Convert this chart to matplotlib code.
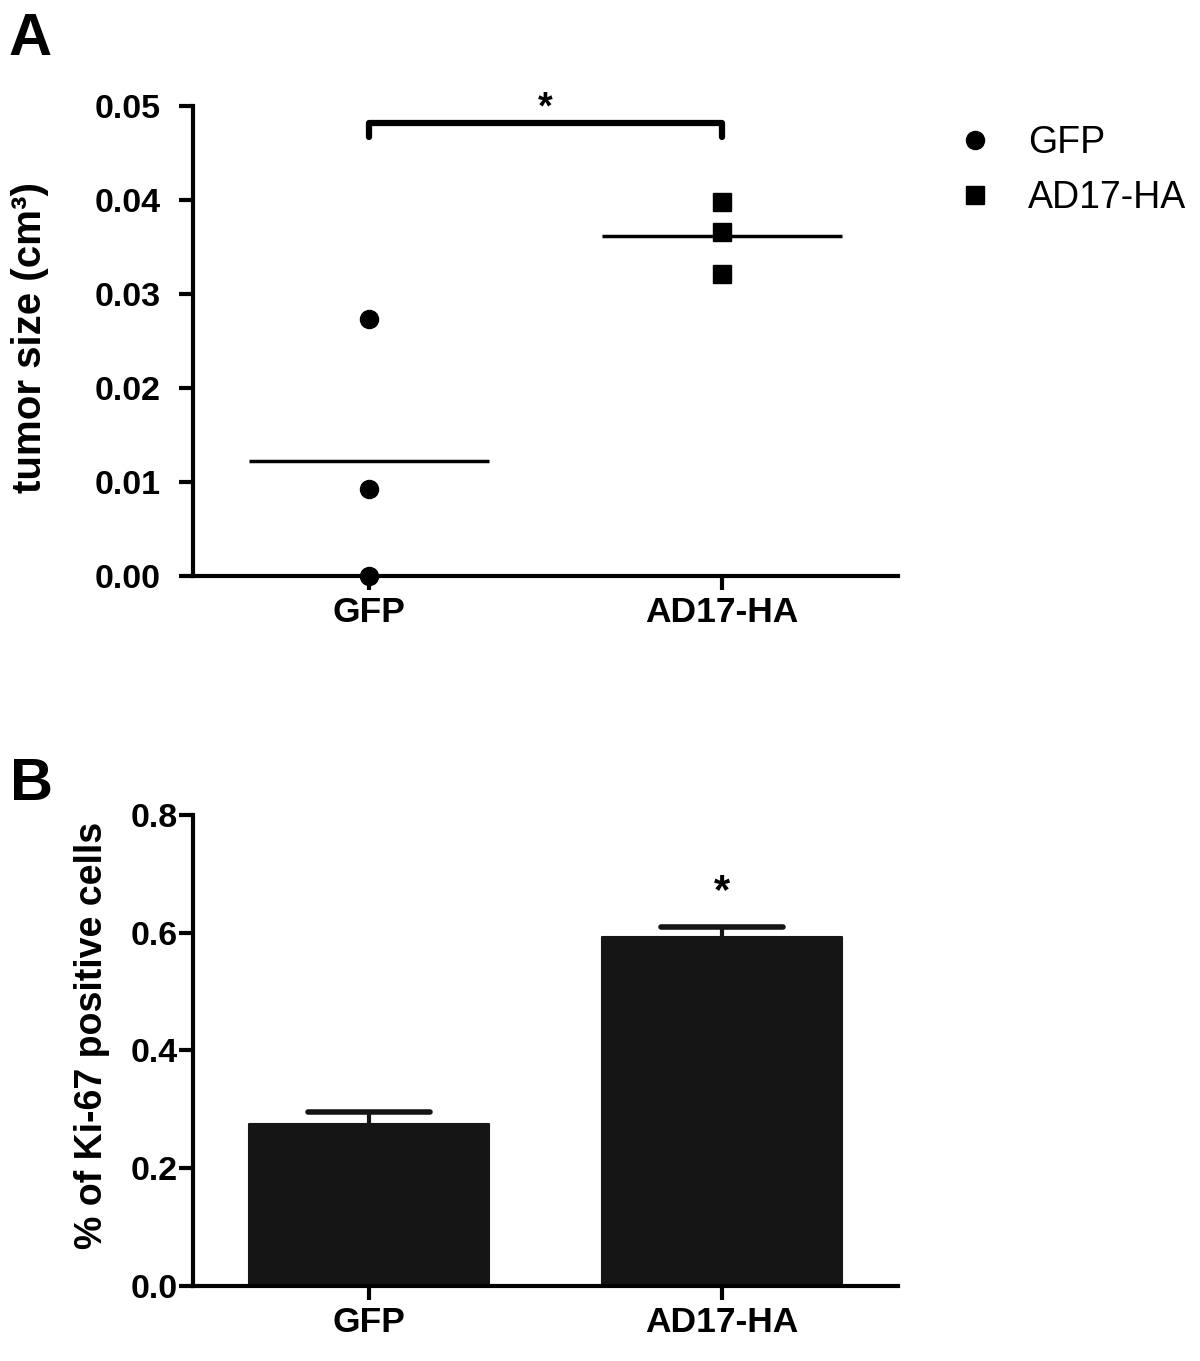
import numpy as np
import matplotlib
matplotlib.use("Agg")
import matplotlib.pyplot as plt

plt.rcParams['font.family'] = ['Liberation Sans', 'DejaVu Sans']

# ---------------- data ----------------
groups = ['GFP', 'AD17-HA']
gfp_tumor = [0.0274, 0.0093, 0.0]
ad17_tumor = [0.0398, 0.0366, 0.0321]
ki67_mean = [0.276, 0.592]
ki67_sem = [0.0195, 0.017]

BLACK = '#000000'
BAR = '#151515'

fig = plt.figure(figsize=(12, 13.61), dpi=100)
axA = fig.add_axes([0.1608, 0.5765, 0.5875, 0.3456])
axB = fig.add_axes([0.1608, 0.05496, 0.5875, 0.3464])

x = np.arange(len(groups))


def style_axis(ax, ypad):
    for s in ['top', 'right']:
        ax.spines[s].set_visible(False)
    for s in ['left', 'bottom']:
        ax.spines[s].set_linewidth(3)
        ax.spines[s].set_color(BLACK)
    ax.tick_params(axis='both', direction='out', length=10, width=3, color=BLACK)
    ax.tick_params(axis='y', pad=ypad, labelsize=24.5)
    ax.tick_params(axis='x', pad=4, labelsize=25.5)
    for lab in ax.get_xticklabels() + ax.get_yticklabels():
        lab.set_fontweight('bold')


# ---------------- panel A ----------------
axA.plot([x[0]] * len(gfp_tumor), gfp_tumor, 'o', color=BLACK, ms=13,
         clip_on=False, zorder=4, label=groups[0])
axA.plot([x[1]] * len(ad17_tumor), ad17_tumor, 's', color=BLACK, ms=13,
         clip_on=False, zorder=4, label=groups[1])
means = [np.mean(gfp_tumor), np.mean(ad17_tumor)]
axA.hlines(means, x - 0.34, x + 0.34, colors=BLACK, lw=2.5, zorder=3)

# significance bracket
br_top, br_low = 0.0482, 0.0467
axA.plot([x[0], x[0], x[1], x[1]], [br_low, br_top, br_top, br_low], color=BLACK,
         lw=4.5, solid_joinstyle='round', solid_capstyle='round', clip_on=False)
axA.text((x[0] + x[1]) / 2, 0.0487, '*', ha='center', va='baseline',
         fontsize=27, fontweight='bold')

axA.set_xlim(-0.5, 1.5)
axA.set_ylim(0, 0.05)
axA.set_yticks(np.arange(0, 0.051, 0.01))
axA.set_yticklabels([f'{v:.2f}' for v in np.arange(0, 0.051, 0.01)])
axA.set_xticks(x)
axA.set_xticklabels(groups)
style_axis(axA, 13)

leg = axA.legend(loc='upper left', bbox_to_anchor=(0.797, 1 - 125 / 1361),
                 bbox_transform=fig.transFigure, frameon=False, fontsize=27,
                 handlelength=1.0, handletextpad=0.92, labelspacing=0.52,
                 borderpad=0, borderaxespad=0, numpoints=1)

fig.text(30 / 1200, 1 - 337 / 1361, 'tumor size (cm³)', rotation=90,
         ha='center', va='center', fontsize=29, fontweight='bold')
fig.text(30 / 1200, 1 - 55 / 1361, 'A', ha='center', va='baseline',
         fontsize=43, fontweight='bold')

# ---------------- panel B ----------------
axB.bar(x, ki67_mean, width=0.68, color=BAR, edgecolor=BAR, linewidth=1.5,
        joinstyle='round', zorder=2)
tops = np.array(ki67_mean) + np.array(ki67_sem)
axB.vlines(x, ki67_mean, tops, colors=BAR, lw=3, zorder=3)
axB.hlines(tops, x - 0.173, x + 0.173, colors=BAR, lw=4, capstyle='round', zorder=3)
axB.text(x[1], 0.65, '*', ha='center', va='baseline', fontsize=30,
         fontweight='bold')

axB.set_xlim(-0.5, 1.5)
axB.set_ylim(0, 0.8)
axB.set_yticks(np.arange(0, 0.81, 0.2))
axB.set_yticklabels([f'{v:.1f}' for v in np.arange(0, 0.81, 0.2)])
axB.set_xticks(x)
axB.set_xticklabels(groups)
style_axis(axB, 1)

fig.text(92 / 1200, 1 - 1035 / 1361, '% of Ki-67 positive cells', rotation=90,
         ha='center', va='center', fontsize=27, fontweight='bold')
fig.text(31 / 1200, 1 - 800 / 1361, 'B', ha='center', va='baseline',
         fontsize=43, fontweight='bold')

fig.savefig('out.png', dpi=100)
